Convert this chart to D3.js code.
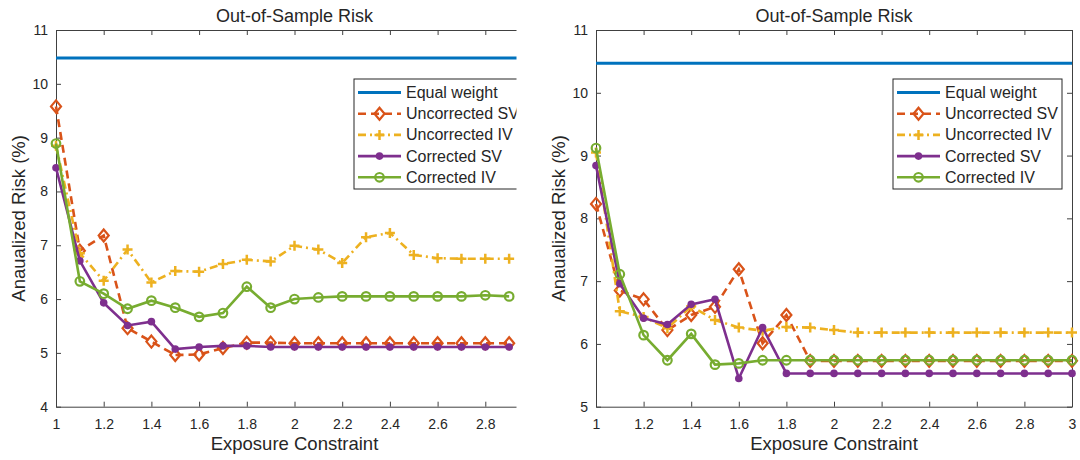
<!DOCTYPE html>
<html>
<head>
<meta charset="utf-8">
<script src="https://cdn.jsdelivr.net/npm/d3@7"></script>
<style>
  body { margin: 0; background: #fff; }
  svg { display: block; }
  text { font-family: "Liberation Sans", Arial, Helvetica, sans-serif; fill: #262626; }
</style>
</head>
<body>
<div id="chart"></div>
<script>
const W = 1080, H = 460;

// ---- data ----
const seriesNames = ["Equal weight", "Uncorrected SV", "Uncorrected IV", "Corrected SV", "Corrected IV"];

const leftX = [1, 1.1, 1.2, 1.3, 1.4, 1.5, 1.6, 1.7, 1.8, 1.9, 2, 2.1, 2.2, 2.3, 2.4, 2.5, 2.6, 2.7, 2.8, 2.9];
const leftEqual = 10.48;
const leftUncSV = [9.58, 6.9, 7.18, 5.46, 5.21, 4.96, 4.97, 5.09, 5.19, 5.19, 5.18, 5.18, 5.18, 5.18, 5.18, 5.18, 5.18, 5.18, 5.18, 5.18];
const leftUncIV = [8.85, 6.85, 6.34, 6.92, 6.31, 6.52, 6.51, 6.65, 6.73, 6.70, 6.99, 6.92, 6.67, 7.15, 7.23, 6.82, 6.76, 6.75, 6.75, 6.75];
const leftCorSV = [8.44, 6.71, 5.93, 5.51, 5.58, 5.07, 5.11, 5.13, 5.13, 5.11, 5.11, 5.11, 5.11, 5.11, 5.11, 5.11, 5.11, 5.11, 5.11, 5.11];
const leftCorIV = [8.89, 6.33, 6.10, 5.82, 5.97, 5.84, 5.67, 5.74, 6.23, 5.84, 6.0, 6.03, 6.05, 6.05, 6.05, 6.05, 6.05, 6.05, 6.07, 6.05];

const rightX = [1, 1.1, 1.2, 1.3, 1.4, 1.5, 1.6, 1.7, 1.8, 1.9, 2, 2.1, 2.2, 2.3, 2.4, 2.5, 2.6, 2.7, 2.8, 2.9, 3];
const rightEqual = 10.47;
const rightUncSV = [8.23, 6.85, 6.71, 6.22, 6.46, 6.59, 7.19, 6.01, 6.46, 5.73, 5.73, 5.73, 5.73, 5.73, 5.73, 5.73, 5.73, 5.73, 5.73, 5.73, 5.73];
const rightUncIV = [9.05, 6.52, 6.43, 6.25, 6.6, 6.38, 6.26, 6.21, 6.27, 6.26, 6.22, 6.18, 6.18, 6.18, 6.18, 6.18, 6.18, 6.18, 6.18, 6.18, 6.18];
const rightCorSV = [8.84, 6.96, 6.41, 6.31, 6.63, 6.71, 5.45, 6.26, 5.53, 5.53, 5.53, 5.53, 5.53, 5.53, 5.53, 5.53, 5.53, 5.53, 5.53, 5.53, 5.53];
const rightCorIV = [9.12, 7.11, 6.14, 5.74, 6.16, 5.67, 5.69, 5.74, 5.74, 5.74, 5.74, 5.74, 5.74, 5.74, 5.74, 5.74, 5.74, 5.74, 5.74, 5.74, 5.74];

const xTicks = [1, 1.2, 1.4, 1.6, 1.8, 2, 2.2, 2.4, 2.6, 2.8, 3];
const leftYTicks = [4, 5, 6, 7, 8, 9, 10, 11];
const rightYTicks = [5, 6, 7, 8, 9, 10, 11];

// ---- styles ----
const colors = ["#0072BD", "#D95319", "#EDB120", "#7E2F8E", "#77AC30"];
const dashes = [null, "8,5", "8,4,2,4", null, null];
const markers = [null, "diamond", "plus", "dot", "circle"];
const axisColor = "#404040";

const svg = d3.select("#chart").append("svg")
    .attr("width", W)
    .attr("height", H);

function drawMarker(g, type, x, y, color) {
    if (type === "diamond") {
        g.append("path")
            .attr("d", `M${x},${y - 6}L${x + 5},${y}L${x},${y + 6}L${x - 5},${y}Z`)
            .attr("fill", "none").attr("stroke", color).attr("stroke-width", 2.2);
    } else if (type === "plus") {
        g.append("path")
            .attr("d", `M${x - 5},${y}H${x + 5}M${x},${y - 5}V${y + 5}`)
            .attr("fill", "none").attr("stroke", color).attr("stroke-width", 2.5);
    } else if (type === "dot") {
        g.append("circle").attr("cx", x).attr("cy", y).attr("r", 3.8)
            .attr("fill", color);
    } else if (type === "circle") {
        g.append("circle").attr("cx", x).attr("cy", y).attr("r", 4.3)
            .attr("fill", "none").attr("stroke", color).attr("stroke-width", 2.2);
    }
}

function drawPanel(p) {
    const x = d3.scaleLinear().domain([1, 3]).range([p.left, p.right]);
    const y = d3.scaleLinear().domain(p.yDomain).range([p.bottom, p.top]);

    const clipId = "clip" + p.id;
    svg.append("clipPath").attr("id", clipId)
        .append("rect").attr("x", 0).attr("y", 0).attr("width", p.clipRight).attr("height", H);

    const g = svg.append("g").attr("clip-path", `url(#${clipId})`);

    // axes
    const bottomAxis = g.append("g")
        .attr("transform", `translate(0,${p.bottom})`)
        .call(d3.axisBottom(x).tickValues(xTicks).tickFormat(d3.format("")).tickSizeInner(-5).tickSizeOuter(0).tickPadding(12));
    const topAxis = g.append("g")
        .attr("transform", `translate(0,${p.top})`)
        .call(d3.axisTop(x).tickValues(xTicks).tickFormat("").tickSizeInner(-5).tickSizeOuter(0));
    const leftAxis = g.append("g")
        .attr("transform", `translate(${p.left},0)`)
        .call(d3.axisLeft(y).tickValues(p.yTicks).tickFormat(d3.format("")).tickSizeInner(-5).tickSizeOuter(0).tickPadding(8));
    const rightAxis = g.append("g")
        .attr("transform", `translate(${p.right},0)`)
        .call(d3.axisRight(y).tickValues(p.yTicks).tickFormat("").tickSizeInner(-5).tickSizeOuter(0));

    [bottomAxis, topAxis, leftAxis, rightAxis].forEach(a => {
        a.selectAll("path, line").attr("stroke", axisColor).attr("stroke-width", 1);
        a.selectAll("text").attr("font-size", "14px").attr("fill", "#262626")
            .attr("font-family", '"Liberation Sans", Arial, sans-serif');
    });

    // equal weight
    g.append("line")
        .attr("x1", p.left).attr("x2", p.right)
        .attr("y1", y(p.equal)).attr("y2", y(p.equal))
        .attr("stroke", colors[0]).attr("stroke-width", 3);

    const line = d3.line().x(d => x(d[0])).y(d => y(d[1]));
    p.series.forEach((vals, i) => {
        const k = i + 1;
        const pts = p.xs.map((xv, j) => [xv, vals[j]]);
        const path = g.append("path")
            .attr("d", line(pts))
            .attr("fill", "none")
            .attr("stroke", colors[k])
            .attr("stroke-width", 2.6);
        if (dashes[k]) path.attr("stroke-dasharray", dashes[k]);
        pts.forEach(pt => drawMarker(g, markers[k], x(pt[0]), y(pt[1]), colors[k]));
    });

    // legend
    const lw = 169, lh = 110;
    const lx = p.right - 10 - lw, ly = 79;
    const leg = g.append("g");
    leg.append("rect").attr("x", lx).attr("y", ly).attr("width", lw).attr("height", lh)
        .attr("fill", "#fff").attr("stroke", "#262626").attr("stroke-width", 1);
    seriesNames.forEach((name, i) => {
        const cy = ly + 13.5 + i * 21.2;
        const ln = leg.append("line")
            .attr("x1", lx + 4).attr("x2", lx + 47)
            .attr("y1", cy).attr("y2", cy)
            .attr("stroke", colors[i]).attr("stroke-width", i === 0 ? 3 : 2.6);
        if (dashes[i]) ln.attr("stroke-dasharray", dashes[i]);
        if (markers[i]) drawMarker(leg, markers[i], lx + 25.5, cy, colors[i]);
        leg.append("text").attr("x", lx + 52).attr("y", cy + 5.5)
            .attr("font-size", "16px").text(name);
    });

    // title and labels
    svg.append("text")
        .attr("x", (p.left + p.right) / 2).attr("y", 22)
        .attr("text-anchor", "middle").attr("font-size", "18px")
        .text("Out-of-Sample Risk");
    svg.append("text")
        .attr("x", (p.left + p.right) / 2).attr("y", 450)
        .attr("text-anchor", "middle").attr("font-size", "18.5px")
        .text("Exposure Constraint");
    svg.append("text")
        .attr("transform", `translate(${p.left - 31},${(p.top + p.bottom) / 2}) rotate(-90)`)
        .attr("text-anchor", "middle").attr("font-size", "18.5px")
        .text("Anaualized Risk (%)");
}

drawPanel({
    id: "L", left: 56, right: 533, clipRight: 516.5, top: 30, bottom: 406.7,
    yDomain: [4, 11], yTicks: leftYTicks, xs: leftX, equal: leftEqual,
    series: [leftUncSV, leftUncIV, leftCorSV, leftCorIV]
});
drawPanel({
    id: "R", left: 596, right: 1072, clipRight: W, top: 30, bottom: 406.7,
    yDomain: [5, 11], yTicks: rightYTicks, xs: rightX, equal: rightEqual,
    series: [rightUncSV, rightUncIV, rightCorSV, rightCorIV]
});
</script>
</body>
</html>
